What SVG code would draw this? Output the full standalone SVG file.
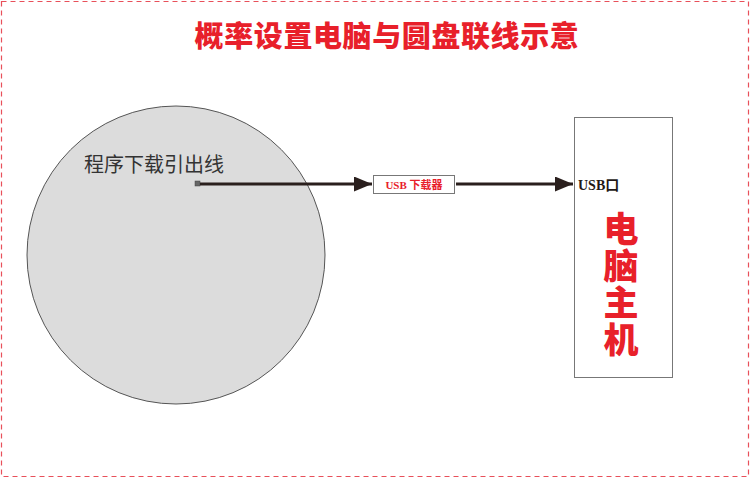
<svg xmlns="http://www.w3.org/2000/svg" width="750" height="478" viewBox="0 0 750 478">
<defs>
<style>
.title{font-family:"Noto Sans CJK SC",sans-serif;font-weight:900;font-size:29px;fill:#e8202a}
.lbl{font-family:"Noto Sans CJK SC",sans-serif;font-size:20px;fill:#333}
.usb{font-family:"Liberation Serif","Noto Sans CJK SC",serif;font-weight:bold;font-size:11px;fill:#e8202a}
.port{font-family:"Liberation Serif","Noto Sans CJK SC",serif;font-weight:bold;font-size:14px;fill:#231815}
.big{font-family:"Noto Sans CJK SC",sans-serif;font-weight:900;font-size:35px;fill:#e8202a;writing-mode:vertical-rl;letter-spacing:2px}
.conn{stroke:#2a1f1d;stroke-width:3;fill:none}
</style>
<marker id="ah" markerWidth="6" markerHeight="5" refX="6" refY="2.5" orient="auto" markerUnits="strokeWidth">
<path d="M0,0 L6,2.5 L0,5 Z" fill="#2a1f1d"/>
</marker>
</defs>
<rect x="1.5" y="1.5" width="747" height="475" fill="#fff" stroke="#e8505a" stroke-width="1.2" stroke-dasharray="5,4"/>
<text class="title" x="387" y="47" text-anchor="middle" letter-spacing="0.6">概率设置电脑与圆盘联线示意</text>
<g id="disc">
<circle cx="176" cy="255" r="149" fill="#dcdcdc" stroke="#555" stroke-width="1"/>
<text class="lbl" x="84" y="172">程序下载引出线</text>
<rect x="195" y="181" width="5" height="5" fill="#666" stroke="#444" stroke-width="0.5"/>
</g>
<g id="downloader">
<rect x="373.5" y="175.5" width="81" height="18" fill="#fff" stroke="#777" stroke-width="1"/>
<text class="usb" x="414" y="188.5" text-anchor="middle">USB 下载器</text>
</g>
<g id="pc">
<rect x="574.5" y="117.5" width="98" height="260" fill="#fff" stroke="#777" stroke-width="1"/>
<text class="port" x="578" y="190">USB口</text>
<text class="big" x="621" y="211">电脑主机</text>
</g>
<g id="connectors">
<line class="conn" x1="200" y1="184" x2="372" y2="184" marker-end="url(#ah)"/>
<line class="conn" x1="456" y1="184" x2="573" y2="184" marker-end="url(#ah)"/>
</g>
</svg>
